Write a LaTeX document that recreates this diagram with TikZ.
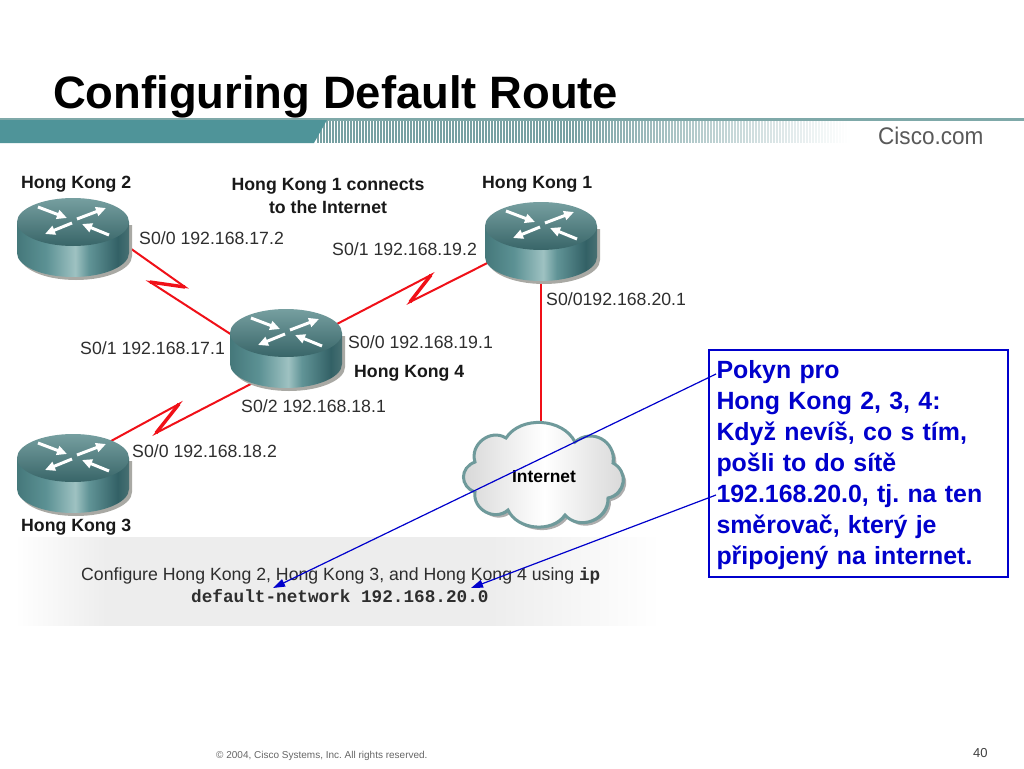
\documentclass[tikz,border=0pt]{standalone}
\usepackage{fontspec}
\setmainfont{Liberation Sans}
\setmonofont{Liberation Mono}
\usetikzlibrary{arrows.meta,shapes.geometric}
\definecolor{bandteal}{HTML}{4F9499}
\definecolor{bandline}{HTML}{7FA9A9}
\definecolor{stripeteal}{HTML}{5F8F92}
\definecolor{serialred}{HTML}{F01018}
\definecolor{notefblue}{HTML}{0000CC}
\definecolor{routertopa}{HTML}{769FA0}
\definecolor{routertopb}{HTML}{386568}
\definecolor{routeredge}{HTML}{A9A9A4}
\definecolor{cloudedge}{HTML}{6F9A9B}
\definecolor{cloudgray}{HTML}{D6D6D6}
\definecolor{labelgray}{HTML}{2E2E2E}
\newcommand{\pxfont}[2]{\fontsize{#1}{#2}\selectfont\frenchspacing}
\newcommand{\cloudpath}{(475,492) to[bend left=70,looseness=1.4] (475,462) to[bend left=70,looseness=1.2] (506,438)
      to[bend left=60] (575,442) to[bend left=70,looseness=1.3] (613,463) to[bend left=70,looseness=1.3] (608,498)
      to[bend left=70,looseness=1.2] (565,515) to[bend left=60] (508,510) to[bend left=70,looseness=1.2] cycle}
\pgfdeclarehorizontalshading{routerbody}{100bp}{
  rgb(0bp)=(0.27,0.47,0.48); rgb(25bp)=(0.27,0.47,0.48); rgb(38bp)=(0.36,0.57,0.58); rgb(51bp)=(0.62,0.76,0.76);
  rgb(57bp)=(0.38,0.58,0.59); rgb(70bp)=(0.20,0.38,0.40); rgb(75bp)=(0.28,0.44,0.45); rgb(100bp)=(0.28,0.44,0.45)}
\pgfdeclarehorizontalshading{panelshade}{100bp}{
  rgb(0bp)=(1,1,1); rgb(25bp)=(1,1,1); rgb(32bp)=(0.93,0.93,0.93); rgb(62bp)=(0.93,0.93,0.93); rgb(75bp)=(1,1,1); rgb(100bp)=(1,1,1)}
\tikzset{
  hkspot/.style={ellipse,minimum width=112pt,minimum height=80pt,inner sep=0pt},
  serial/.style={serialred,line width=2pt,line join=miter},
  bolttip/.style={serialred,line width=3.4pt},
  feedline/.style={serialred,line width=2pt},
  noteline/.style={notefblue,line width=1.2pt,-{Triangle[width=8pt,length=12pt]}},
  iplabel/.style={anchor=west,inner sep=0pt,text=labelgray,font=\pxfont{17.7}{19}},
  hklabel/.style={anchor=west,inner sep=0pt,text=black!90,font=\pxfont{17.7}{23}\bfseries},
  routerarrow/.style={white,line width=3pt,-{Triangle[width=9pt,length=10pt]}},
  hkrouter/.pic={
    \fill[routeredge] (-53,3) -- (-53,34) arc[start angle=180,end angle=360,x radius=56pt,y radius=24pt] -- (59,3) -- cycle;
    \shade[shading=routerbody] (-56,0) -- (-56,31) arc[start angle=180,end angle=360,x radius=56pt,y radius=24pt] -- (56,0) -- cycle;
    \shade[top color=routertopa,bottom color=routertopb] (0,0) ellipse[x radius=56pt,y radius=24pt];
    \draw[routerarrow] (-35,-15) -- (-6,-4);
    \draw[routerarrow] (4,-3) -- (33,-14);
    \draw[routerarrow] (-1,1) -- (-28,12);
    \draw[routerarrow] (36,13) -- (9,2);
  }
}
\begin{document}
\begin{tikzpicture}[x=1pt,y=-1pt]
    \useasboundingbox (0,0) rectangle (1024,768);
    \fill[white] (0,0) rectangle (1024,768);
    \fill[bandline] (0,118) rectangle (1024,121);
    \foreach \sx in {318,321,...,850} {
      \pgfmathsetmacro{\fadeval}{min(85,(850-\sx)/3.3)}
      \draw[stripeteal!\fadeval!white,line width=1.5pt] (\sx,121) -- (\sx,143);
    }
    \fill[bandteal] (0,120) -- (327,120) -- (314,143) -- (0,143) -- cycle;
    \node[anchor=base west,inner sep=0pt,font=\pxfont{45.4}{48}\bfseries] (title) at (53,108) {Configuring Default Route};
    \node[anchor=west,inner sep=0pt,xscale=.94,text=black!65,font=\pxfont{24}{26}] (ciscocom) at (878,136) {Cisco.com};

    \shade[shading=panelshade] (15,537) rectangle (660,625);

    \node[hkspot] (hk2) at (73,239) {};
    \node[hkspot] (hk1) at (541,243) {};
    \node[hkspot] (hk4) at (286,350) {};
    \node[hkspot] (hk3) at (73,475) {};
    \coordinate (bolta) at (185,287);
    \coordinate (boltb) at (150,282);
    \coordinate (boltc) at (431,275);
    \coordinate (boltd) at (410,302);
    \coordinate (bolte) at (156,433);
    \coordinate (boltf) at (179,404);
    \coordinate (cloudtop) at (541,425);
    \draw[serial] (hk2.-8) -- (bolta) -- (boltb) -- (hk4.165);
    \draw[serial] (hk4.27) -- (boltc) -- (boltd) -- (hk1.200);
    \draw[serial] (hk4.225) -- (bolte) -- (boltf) -- (hk3.43);
    \draw[bolttip] (bolta) -- (boltb);
    \draw[bolttip] (boltc) -- (boltd);
    \draw[bolttip] (bolte) -- (boltf);
    \draw[feedline] (hk1.south) -- (cloudtop);

    \pic at (73,222) {hkrouter};
    \pic at (541,226) {hkrouter};
    \pic at (286,333) {hkrouter};
    \pic at (73,458) {hkrouter};

    \fill[black!32,shift={(3,3)}] \cloudpath;
    \fill[cloudedge,shift={(1.5,1)}] \cloudpath;
    \draw[cloudedge,line width=3pt,left color=cloudgray,right color=cloudgray,middle color=white] \cloudpath;
    \node[inner sep=0pt,font=\pxfont{17.4}{19}\bfseries] (internet) at (544,477) {Internet};

    \node[hklabel] (hk2name) at (21,184) {Hong Kong 2};
    \node[hklabel] (hk1name) at (482,184) {Hong Kong 1};
    \node[hklabel] (hk4name) at (354,373) {Hong Kong 4};
    \node[hklabel] (hk3name) at (21,527) {Hong Kong 3};
    \node[hklabel,anchor=center,align=center] (hk1note) at (328,196) {Hong Kong 1 connects\\to the Internet};
    \node[iplabel] (ipa) at (139,238) {S0/0 192.168.17.2};
    \node[iplabel] (ipb) at (332,249) {S0/1 192.168.19.2};
    \node[iplabel] (ipc) at (546,299) {S0/0192.168.20.1};
    \node[iplabel] (ipd) at (348,342) {S0/0 192.168.19.1};
    \node[iplabel] (ipe) at (80,348) {S0/1 192.168.17.1};
    \node[iplabel] (ipf) at (241,406) {S0/2 192.168.18.1};
    \node[iplabel] (ipg) at (132,451) {S0/0 192.168.18.2};

    \node[anchor=base west,inner sep=0pt,text=labelgray,font=\pxfont{17.7}{19}] (configline) at (81,580) {Configure Hong Kong 2, Hong Kong 3, and Hong Kong 4 using \texttt{\bfseries ip}};
    \node[anchor=base west,inner sep=0pt,text=labelgray,font=\pxfont{17.7}{20}\ttfamily\bfseries] (cmdline) at (191,602) {default-network 192.168.20.0};

    \node[draw=notefblue,line width=2pt,anchor=north west,minimum width=299pt,minimum height=227pt,text width=284pt,inner sep=0pt,align=left,text=notefblue,font=\pxfont{24.9}{31}\bfseries] (pokyn) at (708,349) {\rule{0pt}{21pt}Pokyn pro\\Hong Kong 2, 3, 4:\\Když nevíš, co s tím,\\pošli to do sítě\\192.168.20.0, tj. na ten\\směrovač, který je\\připojený na internet.};
    \coordinate (pokyntop) at (716,374);
    \coordinate (pokynmid) at (716,495);
    \coordinate (tipa) at (273,588);
    \coordinate (tipb) at (471,588);
    \draw[noteline] (pokyntop) -- (tipa);
    \draw[noteline] (pokynmid) -- (tipb);

    \node[anchor=base west,inner sep=0pt,text=black!60,font=\pxfont{10}{12}] (copyright) at (216,758) {© 2004, Cisco Systems, Inc. All rights reserved.};
    \node[anchor=base west,inner sep=0pt,text=black!75,font=\pxfont{13}{14}] (pageno) at (973,757) {40};
\end{tikzpicture}
\end{document}
